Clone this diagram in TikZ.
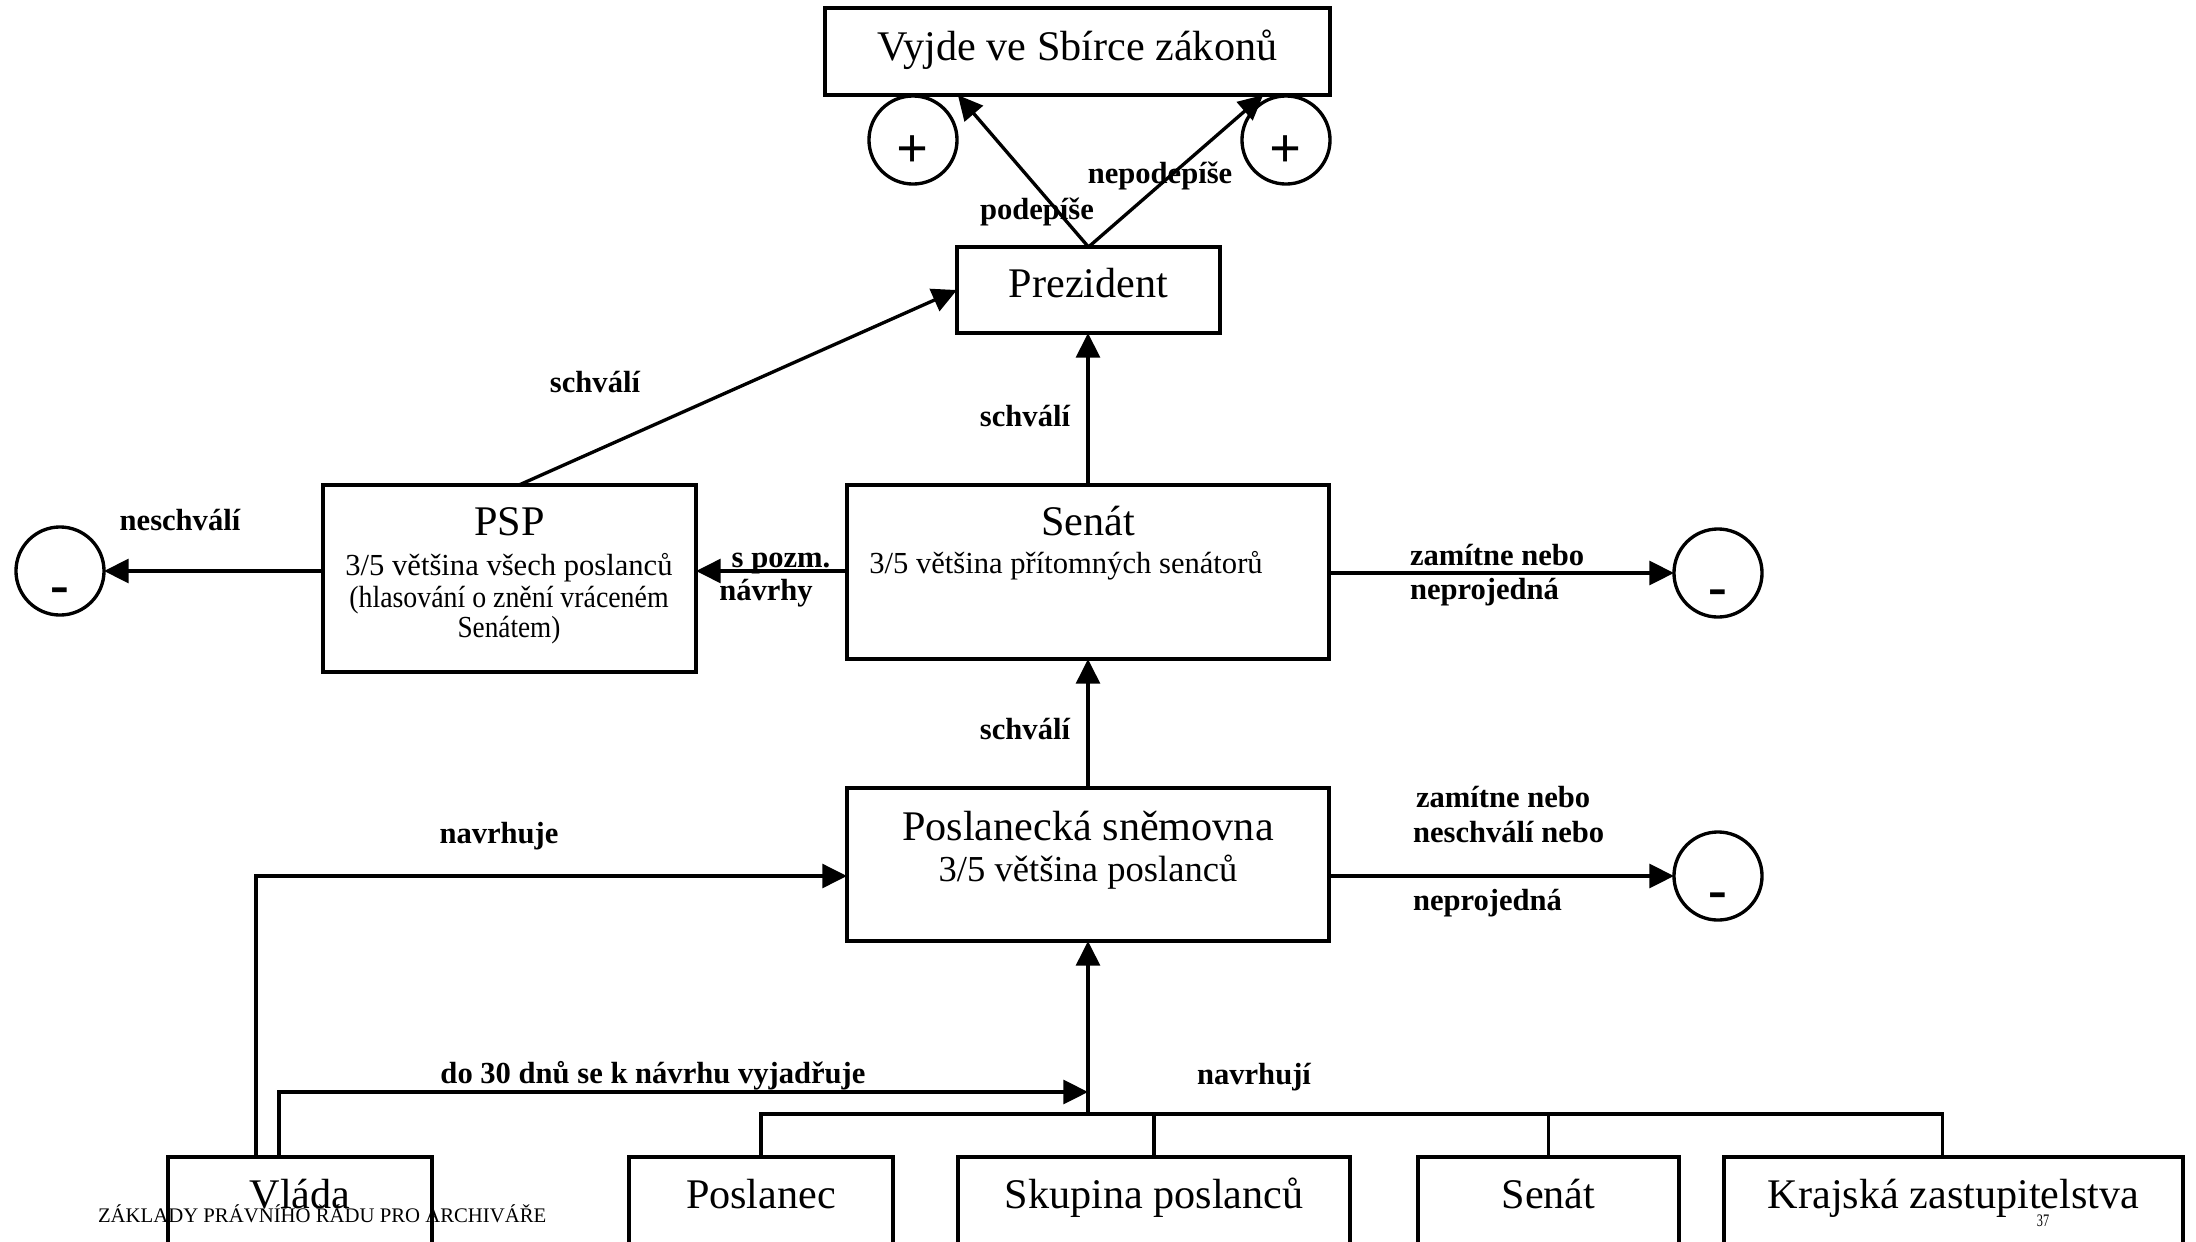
\documentclass[tikz,border=0pt]{standalone}
\usepackage{fontspec}
\setmainfont{Liberation Serif}
\usepackage{graphicx}
\usetikzlibrary{arrows.meta,calc}
\begin{document}
\begin{tikzpicture}[x=0.01cm,y=-0.01cm,
  every node/.style={inner sep=0pt, outer sep=0pt},
  box/.style={draw, line width=0.95pt, anchor=north, font=\fontsize{12}{14}\selectfont},
  lowbox/.style={box, text height=0.51cm, text depth=0.8cm},
  circ/.style={draw, circle, line width=0.95pt, minimum size=0.88cm, font=\bfseries\fontsize{16}{18}\selectfont},
  lbl/.style={font=\bfseries\fontsize{8.7}{9}\selectfont, anchor=base},
  lbll/.style={lbl, anchor=base west},
  sub/.style={font=\fontsize{8.7}{9}\selectfont, anchor=base},
  arr/.style={line width=0.95pt, -{Triangle[length=7pt,width=6.8pt]}},
  ln/.style={line width=0.95pt},
]
\useasboundingbox (0,0) rectangle (2196,1242);
\clip (0,0) rectangle (2196,1242);
\fill[white] (0,0) rectangle (2196,1242);

% boxes
\node[box, minimum width=5.05cm, text height=0.52cm, text depth=0.35cm] (vyjde) at (1077.5,8) {Vyjde ve Sbírce zákonů};
\node[box, minimum width=2.63cm, text height=0.50cm, text depth=0.36cm] (prez) at (1088.5,247) {Prezident};
\node[box, minimum width=3.73cm, text height=0.50cm, text depth=1.37cm] (psp) at (509.5,485) {PSP};
\node[sub] (psp1) at (509,575) {3/5 většina všech poslanců};
\node[sub] (psp2) at (509,607) {\scalebox{0.91}[1]{(hlasování o znění vráceném}};
\node[sub] (psp3) at (509,637) {\scalebox{0.89}[1]{Senátem)}};
\node[box, minimum width=4.82cm, text height=0.50cm, text depth=1.24cm] (senat) at (1088,485) {Senát};
\node[sub] (senat1) at (1066,573) {3/5 většina přítomných senátorů};
\node[box, minimum width=4.82cm, text height=0.52cm, text depth=1.01cm] (ps) at (1088,788) {Poslanecká sněmovna};
\node[font=\fontsize{10.4}{12}\selectfont, anchor=base] (ps1) at (1088,881) {3/5 většina poslanců};

\node[lowbox, minimum width=2.64cm] (vlada) at (300,1157) {Vláda};
\node[lowbox, minimum width=2.64cm] (poslanec) at (761,1157) {Poslanec};
\node[lowbox, minimum width=3.92cm] (skupina) at (1154,1157) {Skupina poslanců};
\node[lowbox, minimum width=2.61cm] (senat2) at (1548.5,1157) {Senát};
\node[lowbox, minimum width=4.59cm] (krajska) at (1953.5,1157) {Krajská zastupitelstva};

% circles
\node[circ] (p1) at (913,140) {\raisebox{-3.4pt}[\height][\depth]{+}};
\node[circ] (p2) at (1286,140) {\raisebox{-3.4pt}[\height][\depth]{+}};
\node[circ] (m1) at (60,571) {\raisebox{-7pt}[\height][\depth]{-}};
\node[circ] (m2) at (1718,573) {\raisebox{-7pt}[\height][\depth]{-}};
\node[circ] (m3) at (1718,876) {\raisebox{-7pt}[\height][\depth]{-}};

% connectors
\draw[arr] (prez.north) -- ($(vyjde.south west)+(133,0)$);
\draw[arr] (prez.north) -- ($(vyjde.south east)+(-67,0)$);
\draw[arr] ($(psp.north)+(9.5,0)$) -- (prez.west);
\draw[arr] (senat.north) -- (senat.north |- prez.south);
\draw[arr] (ps.north) -- (senat.south);
\draw[arr] (psp.west |- m1) -- (m1.east);
\draw[arr] (senat.west |- m1) -- (psp.east |- m1);
\draw[arr] (senat.east |- m2) -- (m2.west);
\draw[arr] (ps.east |- m3) -- (m3.west);
\coordinate (vj) at (1088,1092);
\coordinate (bus) at (1088,1114);
\draw[arr] ($(vlada.north west)+(88,0)$) |- (ps.west |- m3);
\draw[arr] ($(vlada.north west)+(111,0)$) |- (vj);
\draw[arr] (bus) -- (ps.south);
\draw[ln] (poslanec.north) |- (bus) -| ($(krajska.north)+(-11,0)$);
\draw[ln] (skupina.north) -- (skupina.north |- bus);
\draw[ln] (senat2.north) -- (senat2.north |- bus);

% labels
\node[lbl] (l1) at (1037,219) {podepíše};
\node[lbl] (l2) at (1160,183) {nepodepíše};
\node[lbl] (l3) at (595,392) {schválí};
\node[lbl] (l4) at (1025,426) {schválí};
\node[lbl] (l5) at (1025,739) {schválí};
\node[lbl] (l6) at (180,530) {neschválí};
\node[lbl] (l7) at (781,567) {s pozm.};
\node[lbl] (l8) at (766,600) {návrhy};
\node[lbll] (l9) at (1410,565) {zamítne nebo};
\node[lbll] (l10) at (1410,599) {neprojedná};
\node[lbll] (l11) at (1416,807) {zamítne nebo};
\node[lbll] (l12) at (1413,842) {neschválí nebo};
\node[lbll] (l13) at (1413,910) {neprojedná};
\node[lbl] (l14) at (499,843) {navrhuje};
\node[lbl] (l15) at (653,1083) {do 30 dnů se k návrhu vyjadřuje};
\node[lbl] (l16) at (1254,1084) {navrhují};

% footer
\node[anchor=base west, font=\fontsize{5.9}{7}\selectfont] (foot) at (98,1222) {ZÁKLADY PRÁVNÍHO ŘÁDU PRO ARCHIVÁŘE};
\node[anchor=base, font=\fontsize{5}{6}\selectfont] (pg) at (2043,1226) {\scalebox{0.7}[1]{37}};
\end{tikzpicture}
\end{document}
